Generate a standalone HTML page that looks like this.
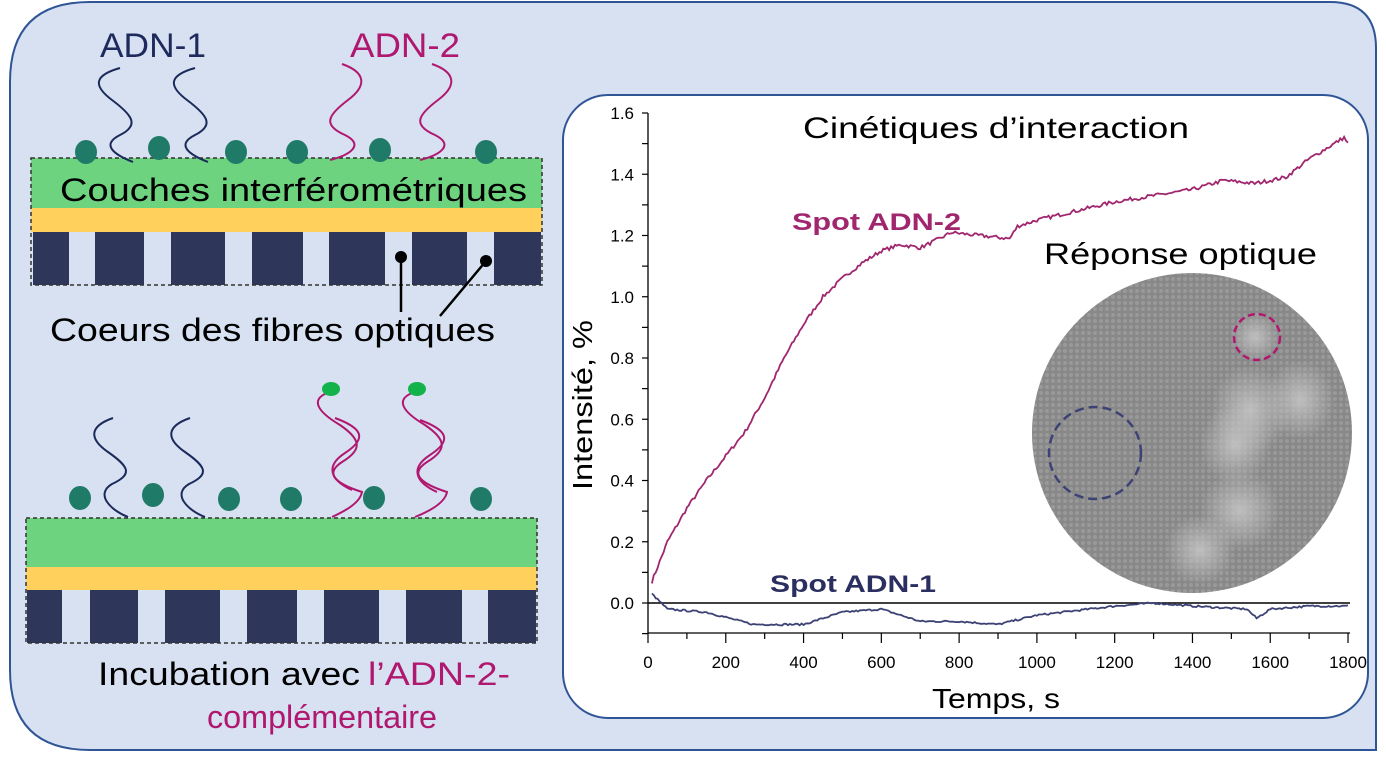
<!DOCTYPE html>
<html><head><meta charset="utf-8"><style>
html,body{margin:0;padding:0;background:#fff;}
svg{display:block;}
text{font-family:"Liberation Sans Narrow","Liberation Sans",sans-serif;}
</style></head><body>
<svg id="s" width="1386" height="759" viewBox="0 0 1386 759" xmlns="http://www.w3.org/2000/svg">
<defs>
<radialGradient id="blob" cx="50%" cy="50%" r="50%"><stop offset="0" stop-color="#c4c4c4" stop-opacity="0.9"/><stop offset="1" stop-color="#c4c4c4" stop-opacity="0"/></radialGradient>
<pattern id="dots" width="6" height="6" patternUnits="userSpaceOnUse"><rect width="6" height="6" fill="#888"/><circle cx="3" cy="3" r="2" fill="#999"/></pattern>
</defs>
<rect width="1386" height="759" fill="#fff"/>
<path d="M90,2 H1330 Q1376,2 1376,48 V750 H90 Q10,750 10,670 V82 Q10,2 90,2 Z" fill="#d7e1f2" stroke="#2f5597" stroke-width="2"/>
<rect x="563" y="95" width="805" height="623" rx="45" fill="#fff" stroke="#2f5597" stroke-width="2"/>

<!-- top stack -->
<g>
<rect x="31" y="158" width="511" height="50" fill="#6dd37e"/>
<rect x="31" y="208" width="511" height="24" fill="#ffd15c"/>
<rect x="31" y="232" width="511" height="53" fill="#d7e1f2"/>
<g fill="#2e375a">
<rect x="33" y="232" width="36" height="53"/><rect x="95" y="232" width="49" height="53"/><rect x="171" y="232" width="54" height="53"/><rect x="252" y="232" width="51" height="53"/><rect x="329" y="232" width="56" height="53"/><rect x="412" y="232" width="55" height="53"/><rect x="494" y="232" width="47" height="53"/>
</g>
<rect x="31" y="158" width="511" height="127" fill="none" stroke="#333" stroke-width="1.5" stroke-dasharray="4,3"/>
<g fill="#1f7a67">
<ellipse cx="86" cy="152" rx="11" ry="12"/><ellipse cx="159" cy="148" rx="11" ry="12"/><ellipse cx="236" cy="152" rx="11" ry="12"/><ellipse cx="297" cy="152" rx="11" ry="12"/><ellipse cx="380" cy="150" rx="11" ry="12"/><ellipse cx="486" cy="152" rx="11" ry="12"/>
</g>
<g fill="none" stroke-width="2">
<path d="M120,68 C95,75 92,85 112,100 C132,115 140,125 120,135 C100,145 115,155 133,162" stroke="#1b2a5a"/>
<path d="M195,68 C170,75 167,85 187,100 C207,115 215,125 195,135 C175,145 190,155 208,162" stroke="#1b2a5a"/>
<path d="M342,64 C365,72 368,85 348,100 C328,115 322,125 345,135 C365,145 350,155 330,160" stroke="#b0176f"/>
<path d="M432,64 C455,72 458,85 438,100 C418,115 412,125 435,135 C455,145 440,155 420,160" stroke="#b0176f"/>
</g>
<text x="100" y="57" font-size="34" fill="#1f2a5c" textLength="106" lengthAdjust="spacingAndGlyphs">ADN-1</text>
<text x="350" y="57" font-size="34" fill="#b0176f" textLength="110" lengthAdjust="spacingAndGlyphs">ADN-2</text>
<text x="60" y="201" font-size="32" fill="#000" textLength="467" lengthAdjust="spacingAndGlyphs">Couches interférométriques</text>
<g stroke="#000" stroke-width="2.5"><line x1="401" y1="257" x2="401" y2="312"/><line x1="486" y1="261" x2="440" y2="316"/></g>
<circle cx="401" cy="257" r="6" fill="#000"/><circle cx="486" cy="261" r="6" fill="#000"/>
<text x="50" y="341" font-size="32" fill="#000" textLength="445" lengthAdjust="spacingAndGlyphs">Coeurs des fibres optiques</text>
</g>

<!-- bottom stack -->
<g>
<rect x="26" y="518" width="511" height="49" fill="#6dd37e"/>
<rect x="26" y="567" width="511" height="23" fill="#ffd15c"/>
<rect x="26" y="590" width="511" height="53" fill="#d7e1f2"/>
<g fill="#2e375a">
<rect x="27" y="590" width="35" height="53"/><rect x="90" y="590" width="48" height="53"/><rect x="165" y="590" width="55" height="53"/><rect x="247" y="590" width="50" height="53"/><rect x="324" y="590" width="55" height="53"/><rect x="406" y="590" width="56" height="53"/><rect x="488" y="590" width="48" height="53"/>
</g>
<rect x="26" y="518" width="511" height="125" fill="none" stroke="#333" stroke-width="1.5" stroke-dasharray="4,3"/>
<g fill="#1f7a67">
<ellipse cx="80" cy="498" rx="11" ry="12"/><ellipse cx="153" cy="495" rx="11" ry="12"/><ellipse cx="229" cy="499" rx="11" ry="12"/><ellipse cx="291" cy="499" rx="11" ry="12"/><ellipse cx="374" cy="498" rx="11" ry="12"/><ellipse cx="481" cy="499" rx="11" ry="12"/>
</g>
<g fill="none" stroke-width="2">
<path d="M113,418 C90,426 88,438 108,452 C128,466 134,474 112,484 C95,494 110,510 128,517" stroke="#1b2a5a"/>
<path d="M190,418 C167,426 165,438 185,452 C205,466 211,474 189,484 C172,494 187,510 205,517" stroke="#1b2a5a"/>
<path d="M327,393 C310,400 318,412 340,425 C362,440 362,450 342,462 C322,475 340,485 362,492 C360,503 345,511 332,517" stroke="#b0176f"/>
<path d="M335,418 C362,428 368,438 345,453 C325,466 330,480 352,490" stroke="#b0176f"/>
<path d="M412,393 C395,400 403,412 425,425 C447,440 447,450 427,462 C407,475 425,485 447,492 C445,503 430,511 415,517" stroke="#b0176f"/>
<path d="M420,420 C447,430 453,440 430,455 C410,468 415,482 437,492" stroke="#b0176f"/>
</g>
<ellipse cx="331" cy="389" rx="9" ry="7" fill="#12b34a"/><ellipse cx="417" cy="389" rx="9" ry="7" fill="#12b34a"/>
<text x="98" y="685" font-size="32" fill="#000" textLength="262" lengthAdjust="spacingAndGlyphs">Incubation avec</text>
<text x="368" y="685" font-size="32" fill="#b0176f" textLength="142" lengthAdjust="spacingAndGlyphs">l’ADN-2-</text>
<text x="207" y="728" font-size="32" fill="#b0176f" textLength="230" lengthAdjust="spacingAndGlyphs">complémentaire</text>
</g>

<!-- chart -->
<g id="chart">
<circle cx="1192" cy="433" r="160" fill="url(#dots)"/>
<g>
<ellipse cx="1250" cy="410" rx="40" ry="45" fill="url(#blob)"/>
<ellipse cx="1300" cy="400" rx="35" ry="40" fill="url(#blob)"/>
<ellipse cx="1235" cy="445" rx="35" ry="40" fill="url(#blob)"/>
<ellipse cx="1240" cy="510" rx="40" ry="40" fill="url(#blob)"/>
<ellipse cx="1200" cy="550" rx="35" ry="35" fill="url(#blob)"/>
<ellipse cx="1255" cy="337" rx="25" ry="25" fill="url(#blob)"/>
</g>
<circle cx="1095" cy="453" r="46" fill="none" stroke="#3d4275" stroke-width="2.5" stroke-dasharray="9,5"/>
<circle cx="1257" cy="337" r="23" fill="none" stroke="#b0176f" stroke-width="2.5" stroke-dasharray="7,4"/>
<line x1="648" y1="113" x2="648" y2="633" stroke="#000" stroke-width="1.3"/>
<line x1="648" y1="633" x2="1350" y2="633" stroke="#000" stroke-width="1.3"/>
<line x1="648" y1="603" x2="1350" y2="603" stroke="#000" stroke-width="1.5"/>
<g id="ticks" stroke="#000" stroke-width="1.2"></g>
<g id="labels" font-size="17" fill="#000"></g>
<polyline id="c2" fill="none" stroke="#a0266e" stroke-width="1.8"/>
<polyline id="c1" fill="none" stroke="#3d4275" stroke-width="1.8"/>
<text x="803" y="138" font-size="30" fill="#000" textLength="386" lengthAdjust="spacingAndGlyphs">Cinétiques d’interaction</text>
<text x="1044" y="264" font-size="30" fill="#000" textLength="273" lengthAdjust="spacingAndGlyphs">Réponse optique</text>
<text x="792" y="230" font-size="24" font-weight="bold" fill="#a0266e" textLength="169" lengthAdjust="spacingAndGlyphs">Spot ADN-2</text>
<text x="770" y="592" font-size="24" font-weight="bold" fill="#2a2f5f" textLength="166" lengthAdjust="spacingAndGlyphs">Spot ADN-1</text>
<text x="932" y="708" font-size="28" fill="#000" textLength="128" lengthAdjust="spacingAndGlyphs">Temps, s</text>
<text transform="translate(592,490) rotate(-90)" font-size="28" fill="#000" textLength="170" lengthAdjust="spacingAndGlyphs">Intensité, %</text>
</g>
</svg>
<script>
(function(){
var NS="http://www.w3.org/2000/svg";
function X(t){return 648+t*0.3889;} function Y(v){return 603-v*306.25;}
var tk=document.getElementById('ticks'),lb=document.getElementById('labels');
function L(a,b,c,d){var l=document.createElementNS(NS,'line');l.setAttribute('x1',a);l.setAttribute('y1',b);l.setAttribute('x2',c);l.setAttribute('y2',d);tk.appendChild(l);}
function T(x,y,s,anc){var t=document.createElementNS(NS,'text');t.setAttribute('x',x);t.setAttribute('y',y);t.setAttribute('text-anchor',anc);t.textContent=s;lb.appendChild(t);}
for(var t=0;t<=1800;t+=100){var x=X(t);L(x,633,x,t%200?639:643);if(t%200==0)T(x,668,String(t),'middle');}
for(var i=-1;i<=16;i++){var y=Y(i/10);L(642,y,648,y);if(i%2==0&&i>=0)T(634,y+6,(i/10).toFixed(1),'end');}
var k2=[[10,.07],[50,.2],[100,.31],[150,.4],[200,.48],[250,.56],[300,.67],[350,.8],[400,.91],[450,1.0],[500,1.06],[550,1.11],[600,1.15],[650,1.17],[700,1.16],[750,1.19],[780,1.21],[850,1.2],[930,1.19],[950,1.23],[1000,1.25],[1100,1.28],[1200,1.31],[1300,1.33],[1400,1.35],[1480,1.38],[1560,1.37],[1640,1.39],[1700,1.45],[1790,1.52],[1800,1.5]];
var k1=[[10,.03],[50,-.02],[150,-.03],[270,-.07],[400,-.07],[500,-.03],[600,-.02],[700,-.06],[800,-.06],[900,-.07],[1000,-.04],[1200,-.01],[1300,0],[1400,-.01],[1540,-.02],[1565,-.05],[1600,-.02],[1700,-.01],[1800,-.01]];
var seed=7;function r(){seed=(seed*16807)%2147483647;return seed/2147483647-0.5;}
function build(k,amp){var p=[];for(var t=k[0][0];t<=k[k.length-1][0];t+=5){var j=0;while(j<k.length-2&&k[j+1][0]<t)j++;var a=k[j],b=k[j+1];var f=(t-a[0])/(b[0]-a[0]);var v=a[1]+(b[1]-a[1])*f+r()*amp;p.push(X(t).toFixed(1)+','+Y(v).toFixed(1));}return p.join(' ');}
document.getElementById('c2').setAttribute('points',build(k2,0.012));
document.getElementById('c1').setAttribute('points',build(k1,0.006));
})();
</script>
</body></html>
